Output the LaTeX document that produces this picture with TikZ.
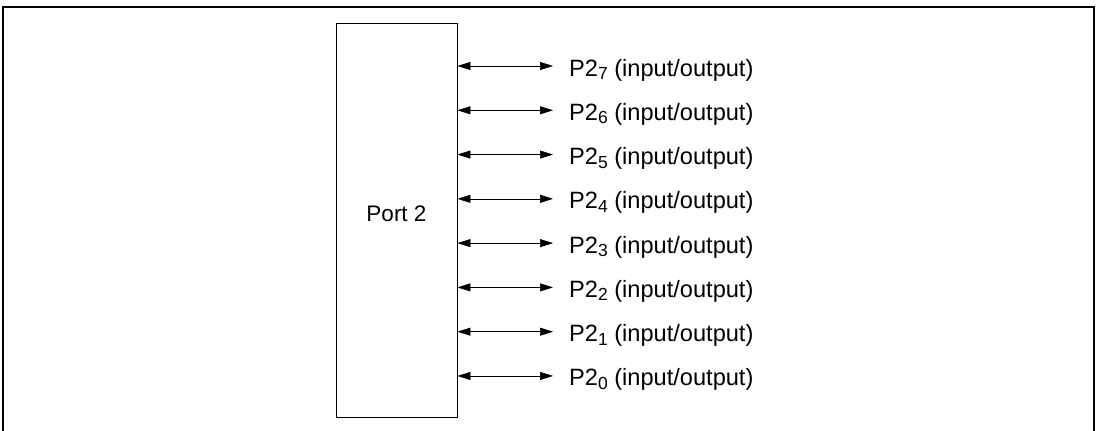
\documentclass[tikz,border=0pt]{standalone}
\usepackage{fontspec}
\setmainfont{Liberation Sans}
\usetikzlibrary{positioning,arrows.meta,calc}

\newcommand{\pinsub}[1]{\raisebox{-3.5pt}{\fontsize{17.5}{20}\selectfont #1}}

\begin{document}
\begin{tikzpicture}[x=1pt,y=-1pt]
            \tikzset{
                portbox/.style={
                    draw,
                    line width=0.9pt,
                    minimum width=121pt,
                    minimum height=394pt,
                    inner sep=0pt
                }
            }
            \tikzset{
                sigtext/.style={
                    anchor=west,
                    inner xsep=16pt,
                    inner ysep=0pt,
                    text height=20pt,
                    text depth=0pt,
                    font=\fontsize{23.6}{27}\selectfont
                }
            }
            \tikzset{
                io/.style={
                    line width=0.6pt,
                    {Triangle[length=13pt,width=8pt]}-{Triangle[length=13pt,width=8pt]}
                }
            }

            \useasboundingbox (0,0) rectangle (1098,431);
            \draw[line width=1.2pt] (3,431) |- (1094,7) -- (1094,431);

            \node[portbox] (port) at (396.5,220) {};
            \node[font=\fontsize{22.5}{26}\selectfont] (portname) at ($(port.center)+(0,-6)$) {Port 2};

            \foreach \i in {7,...,0} {
                \node[sigtext] (p\i) at (553,{66+(7-\i)*44.28}) {P2\pinsub{\i} (input/output)};
                \draw[io] (port.east |- p\i.west) -- (p\i.west);
            }
        \end{tikzpicture}
\end{document}
